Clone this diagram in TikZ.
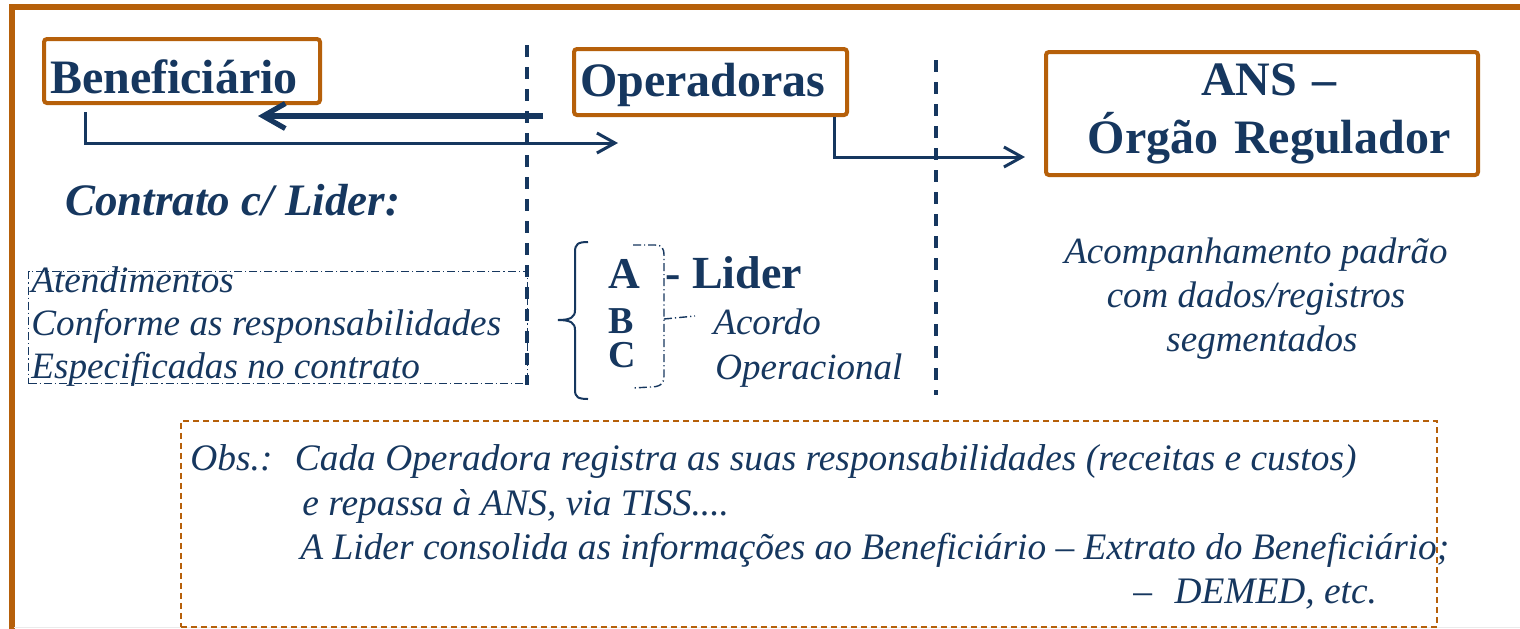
\documentclass[tikz,border=0pt]{standalone}
\usepackage{fontspec}
\setmainfont{Liberation Serif}
\usetikzlibrary{arrows.meta,calc}
\definecolor{navy}{HTML}{16375F}
\definecolor{ocre}{HTML}{B6600A}
\begin{document}
\begin{tikzpicture}[x=0.5pt,y=-0.5pt,
  frame/.style={draw=ocre,line width=2.6pt},
  hbox/.style={draw=ocre,line width=2pt,rounded corners=1.5pt,anchor=north west,inner ysep=0pt,text=navy,font=\fontsize{24}{29}\selectfont\bfseries},
  divider/.style={draw=navy,line width=1.6pt,dash pattern=on 6pt off 5pt},
  flow/.style={draw=navy,line width=1.5pt,-{Straight Barb[length=9pt,width=10pt]}},
  backflow/.style={draw=navy,line width=2.6pt,-{Straight Barb[length=11pt,width=12.5pt]}},
  bodytxt/.style={text=navy,font=\fontsize{18.6}{21.5}\selectfont\itshape,inner sep=0pt,anchor=base west},
  headtxt/.style={text=navy,font=\fontsize{23}{28}\selectfont\bfseries,inner sep=0pt,anchor=base west},
  dashdot/.style={draw=navy,line width=0.7pt,dash pattern=on 4pt off 1.5pt on 0.6pt off 1.5pt},
  obsbox/.style={draw=ocre,line width=0.8pt,dash pattern=on 3pt off 2pt},
  obstxt/.style={text=navy,font=\fontsize{18.7}{22}\selectfont\itshape,inner sep=0pt,anchor=base west}
]
\useasboundingbox (0,0) rectangle (1520,628);
\fill[white] (0,0) rectangle (1520,628);
% outer frame (partly outside the picture)
\draw[frame] (12,660) -- (12,7) -- (1560,7);
\draw[line width=0.6pt,black!8] (14,627.4) -- (1520,627.4);

% header boxes
\node[hbox,minimum height=32pt,text width=132pt,inner xsep=3pt,align=left,text height=22pt,text depth=0pt] (benef) at (42,37) {Beneficiário};
\node[hbox,minimum height=33pt,text width=130.5pt,inner xsep=3pt,align=left,text height=17pt,text depth=3pt] (oper) at (572,47) {Operadoras};
\node[hbox,minimum height=61.5pt,text width=210pt,inner xsep=3pt,align=center] (ans) at (1044,50) {\hspace*{7pt}ANS –\\\hspace*{7pt}Órgão Regulador};

% dividers
\draw[divider] (527,45) -- (527,385);
\draw[divider] (936,60) -- (936,395);

% connectors
\coordinate (backstart) at (543,116);
\coordinate (backend) at (258,116);
\coordinate (benefout) at ($(benef.south west)+(43,7)$);
\coordinate (operin) at (618,143);
\coordinate (ansin) at (1025,157);
\draw[backflow] (backstart) -- (backend);
\draw[flow] (benefout) |- (operin);
\draw[flow] ($(oper.south east)+(-15,0)$) |- (ansin);

% left column
\node[text=navy,font=\fontsize{22.5}{26}\selectfont\bfseries\itshape,inner sep=0pt,anchor=base west] (contrato) at (65,215) {Contrato c/ Lider:};
\node[dashdot,anchor=north west,minimum width=249.5pt,minimum height=56pt,inner sep=0pt] (resp) at (28,271) {};
\node[bodytxt] (resp1) at (31,292) {Atendimentos};
\node[bodytxt] (resp2) at (31,335) {Conforme as responsabilidades};
\node[bodytxt] (resp3) at (31,378) {Especificadas no contrato};

% middle column
\draw[navy,line width=1pt] (588,242) .. controls (578,242) and (575,244) .. (575,252) -- (575,310) .. controls (575,317) and (571,320) .. (558,320) .. controls (571,320) and (575,323) .. (575,330) -- (575,390) .. controls (575,397) and (578,399) .. (588,399);
\node[text=navy,font=\fontsize{22}{26}\selectfont\bfseries,inner sep=0pt,anchor=base west] (la) at (608,288) {A};
\node[text=navy,font=\fontsize{19}{17}\selectfont\bfseries,inner sep=0pt,anchor=north west,align=left] (lbc) at (608,308) {B\\C};
\draw[dashdot] (633,245) -- (655,245) .. controls (662,245) and (664,248) .. (664,256) -- (664,376) .. controls (664,384) and (660,387) .. (650,387) -- (633,388);
\coordinate (brk) at (664,319);
\coordinate (brkend) at (695,316);
\draw[dashdot] (brk) -- (brkend);
\node[headtxt] (lider) at (665,288) {- Lider};
\node[bodytxt,font=\fontsize{18.5}{22}\selectfont\itshape] (acordo) at (713,334) {Acordo};
\node[bodytxt,font=\fontsize{18.5}{22}\selectfont\itshape] (operac) at (715,379) {Operacional};

% right column
\node[bodytxt,font=\fontsize{18.5}{22}\selectfont\itshape,anchor=base] (acomp1) at (1256,263) {Acompanhamento padrão};
\node[bodytxt,font=\fontsize{18.5}{22}\selectfont\itshape,anchor=base] (acomp2) at (1256,307) {com dados/registros};
\node[bodytxt,font=\fontsize{18.5}{22}\selectfont\itshape,anchor=base] (acomp3) at (1262,351) {segmentados};

% observation box
\node[obsbox,anchor=north west,minimum width=628pt,minimum height=103pt,inner sep=0pt] (obs) at (180,420) {};
\node[obstxt] (obs1) at (190,470) {Obs.:\hspace{0.6em}Cada Operadora registra as suas responsabilidades (receitas e custos)};
\node[obstxt] (obs2) at (302,515) {e repassa à ANS, via TISS....};
\node[obstxt] (obs3) at (300,559) {A Lider consolida as informações ao Beneficiário – Extrato do Beneficiário;};
\node[obstxt] (obs4) at (1133,603) {–\hspace{0.6em}DEMED, etc.};
\end{tikzpicture}
\end{document}
